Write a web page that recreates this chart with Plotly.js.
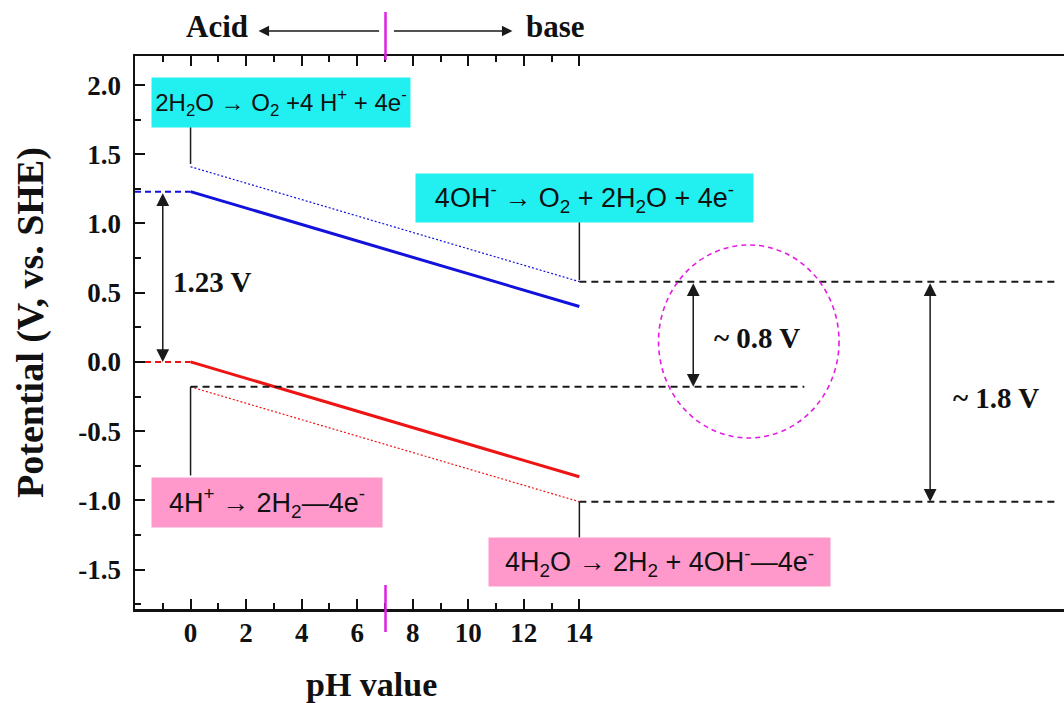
<!DOCTYPE html>
<html>
<head>
<meta charset="utf-8">
<script src="https://cdn.plot.ly/plotly-3.0.1.min.js"></script>
<style>html,body{margin:0;padding:0;background:#fff;}#chart{width:1064px;height:703px;}</style>
</head>
<body>
<div id="chart"></div>
<script>
// ---- data ----
const phEnds = [0, 14];
const oerSolid = [1.23, 0.40];
const oerDotted = [1.41, 0.58];
const herSolid = [0.00, -0.83];
const herDotted = [-0.18, -1.01];
const extX = [-2, 0];
const oerExt = [1.23, 1.23];
const herExt = [0.00, 0.00];
const refUpperX = [14, 31.2];
const refUpperY = [0.58, 0.58];
const refMidX = [0, 22.1];
const refMidY = [-0.18, -0.18];
const refLowerX = [14, 31.2];
const refLowerY = [-1.01, -1.01];
const conn1X = [0, 0], conn1Y = [1.43, 1.70];
const conn2X = [14, 14], conn2Y = [0.59, 1.01];
const conn3X = [0, 0], conn3Y = [-0.18, -0.82];
const conn4X = [14, 14], conn4Y = [-1.01, -1.27];
const xTickVals = [0, 2, 4, 6, 8, 10, 12, 14];
const xTickText = ['0', '2', '4', '6', '8', '10', '12', '14'];
const xMinorVals = [-1, 1, 3, 5, 7, 9, 11, 13];
const yTickVals = [-1.5, -1.0, -0.5, 0.0, 0.5, 1.0, 1.5, 2.0];
const yTickText = ['-1.5', '-1.0', '-0.5', '0.0', '0.5', '1.0', '1.5', '2.0'];
const yMinorVals = [-1.75, -1.25, -0.75, -0.25, 0.25, 0.75, 1.25, 1.75];
const gap123 = [1.23, 0.00];
const gap08 = [0.58, -0.18];
const gap18 = [0.58, -1.01];

const BLUE = '#1212DC', RED = '#EE1414', BLK = '#1a1a1a', MAG = '#E21EE2';
const CYAN = '#22F0F0', PINK = '#FF99CC';
const SERIF = 'Liberation Serif, Times New Roman, serif';
const SANS = 'Liberation Sans, Arial, sans-serif';

function ln(x, y, color, width, dash) {
  return {x: x, y: y, type: 'scatter', mode: 'lines', hoverinfo: 'skip', showlegend: false,
          line: {color: color, width: width, dash: dash || 'solid'}};
}

const traces = [
  ln(extX, oerExt, BLUE, 2, '6px,4px'),
  ln(extX, herExt, RED, 2, '6px,4px'),
  ln(phEnds, oerDotted, BLUE, 1.2, '2px,2px'),
  ln(phEnds, herDotted, RED, 1.2, '2px,2px'),
  ln(phEnds, oerSolid, BLUE, 3),
  ln(phEnds, herSolid, RED, 3),
  ln(refUpperX, refUpperY, BLK, 2, '7px,5px'),
  ln(refMidX, refMidY, BLK, 2, '7px,5px'),
  ln(refLowerX, refLowerY, BLK, 2, '7px,5px'),
  ln(conn1X, conn1Y, BLK, 1.5),
  ln(conn2X, conn2Y, BLK, 1.5),
  ln(conn3X, conn3Y, BLK, 1.5),
  ln(conn4X, conn4Y, BLK, 1.5)
];

function box(text, x, y, w, h, bg, size) {
  return {text: text, x: x, y: y, xref: 'x', yref: 'y', showarrow: false,
          xanchor: 'center', yanchor: 'middle', width: w, height: h, borderpad: 0,
          bgcolor: bg, font: {family: SANS, size: size, color: '#111'}};
}
function darrow(x, yTop, yBot) {
  return {x: x, y: yBot, ax: x, ay: yTop, xref: 'x', yref: 'y', axref: 'x', ayref: 'y',
          text: '', showarrow: true, arrowhead: 2, arrowside: 'end+start', arrowsize: 1.7,
          arrowwidth: 1.5, arrowcolor: BLK, standoff: 0, startstandoff: 0};
}
function label(text, x, y, xanchor) {
  return {text: text, x: x, y: y, xref: 'x', yref: 'y', showarrow: false,
          xanchor: xanchor || 'center', yanchor: 'middle',
          font: {family: SERIF, size: 29, color: '#111', weight: 'bold'}};
}

const annotations = [
  box('2H<sub>2</sub>O → O<sub>2</sub> +4 H<sup>+</sup> + 4e<sup>-</sup>', 3.27, 1.874, 258, 49, CYAN, 24),
  box('4OH<sup>-</sup> → O<sub>2</sub> + 2H<sub>2</sub>O + 4e<sup>-</sup>', 14.2, 1.184, 337, 48, CYAN, 27),
  box('4H<sup>+</sup> → 2H<sub>2</sub>—4e<sup>-</sup>', 2.77, -1.014, 230, 49, PINK, 27),
  box('4H<sub>2</sub>O → 2H<sub>2</sub> + 4OH<sup>-</sup>—4e<sup>-</sup>', 16.9, -1.444, 341, 48, PINK, 27),
  darrow(-1, gap123[0], gap123[1]),
  darrow(18.1, gap08[0], gap08[1]),
  darrow(26.63, gap18[0], gap18[1]),
  label('1.23 V', -0.7, 0.578, 'left'),
  label('~ 0.8 V', 20.4, 0.173),
  label('~ 1.8 V', 29.0, -0.26),
  // top acid/base labels
  {text: 'Acid', x: 0.97, y: 1.0525, xref: 'x', yref: 'paper', showarrow: false, xanchor: 'center', yanchor: 'middle',
   font: {family: SERIF, size: 31, color: '#111', weight: 'bold'}},
  {text: 'base', x: 13.13, y: 1.0525, xref: 'x', yref: 'paper', showarrow: false, xanchor: 'center', yanchor: 'middle',
   font: {family: SERIF, size: 31, color: '#111', weight: 'bold'}},
  {text: '', x: 2.45, y: 1.0452, xref: 'x', yref: 'paper', ax: 122, ay: 0, axref: 'pixel', ayref: 'pixel',
   showarrow: true, arrowhead: 2, arrowsize: 1.5, arrowwidth: 1.4, arrowcolor: BLK, standoff: 0, startstandoff: 0},
  {text: '', x: 11.59, y: 1.0452, xref: 'x', yref: 'paper', ax: -120, ay: 0, axref: 'pixel', ayref: 'pixel',
   showarrow: true, arrowhead: 2, arrowsize: 1.5, arrowwidth: 1.4, arrowcolor: BLK, standoff: 0, startstandoff: 0},
  // axis titles
  {text: 'pH value', x: 6.51, y: -0.137, xref: 'x', yref: 'paper', showarrow: false, xanchor: 'center', yanchor: 'middle',
   font: {family: SERIF, size: 34, color: '#111', weight: 'bold'}},
  {text: 'Potential (V, vs. SHE)', x: -0.112, y: 0.519, xref: 'paper', yref: 'paper', showarrow: false, textangle: -90,
   xanchor: 'center', yanchor: 'middle', font: {family: SERIF, size: 38, color: '#111', weight: 'bold'}}
];

const shapes = [
  {type: 'circle', xref: 'x', yref: 'y', x0: 16.85, x1: 23.35, y0: -0.55, y1: 0.845,
   line: {color: MAG, width: 1.6, dash: '5px,4px'}},
  {type: 'line', xref: 'x', yref: 'paper', x0: 7.02, x1: 7.02, y0: 0.9928, y1: 1.0796,
   line: {color: MAG, width: 2.5}},
  {type: 'line', xref: 'x', yref: 'paper', x0: 7.02, x1: 7.02, y0: -0.0416, y1: 0.0434,
   line: {color: MAG, width: 2.5}}
];

const layout = {
  width: 1064, height: 703,
  margin: {l: 135, r: 0, t: 56, b: 94, pad: 0},
  paper_bgcolor: '#fff', plot_bgcolor: '#fff',
  showlegend: false,
  xaxis: {range: [-2, 31.45], showgrid: false, zeroline: false, showline: true, linecolor: '#111', linewidth: 2.5,
          mirror: 'allticks', ticks: 'inside', ticklen: 10, tickwidth: 2, tickcolor: '#111',
          tickmode: 'array', tickvals: xTickVals, ticktext: xTickText, ticklabelstandoff: -2,
          tickfont: {family: SERIF, size: 27, color: '#111', weight: 'bold'},
          minor: {tickmode: 'array', tickvals: xMinorVals, ticks: 'inside', ticklen: 6, tickwidth: 2, tickcolor: '#111'}},
  yaxis: {range: [-1.785, 2.21], showgrid: false, zeroline: false, showline: true, linecolor: '#111', linewidth: 2.5,
          ticks: 'inside', ticklen: 10, tickwidth: 2, tickcolor: '#111',
          tickmode: 'array', tickvals: yTickVals, ticktext: yTickText, ticklabelstandoff: 6,
          tickfont: {family: SERIF, size: 27, color: '#111', weight: 'bold'},
          minor: {tickmode: 'array', tickvals: yMinorVals, ticks: 'inside', ticklen: 6, tickwidth: 2, tickcolor: '#111'}},
  annotations: annotations,
  shapes: shapes
};

Plotly.newPlot('chart', traces, layout, {staticPlot: true, displayModeBar: false});
</script>
</body>
</html>
